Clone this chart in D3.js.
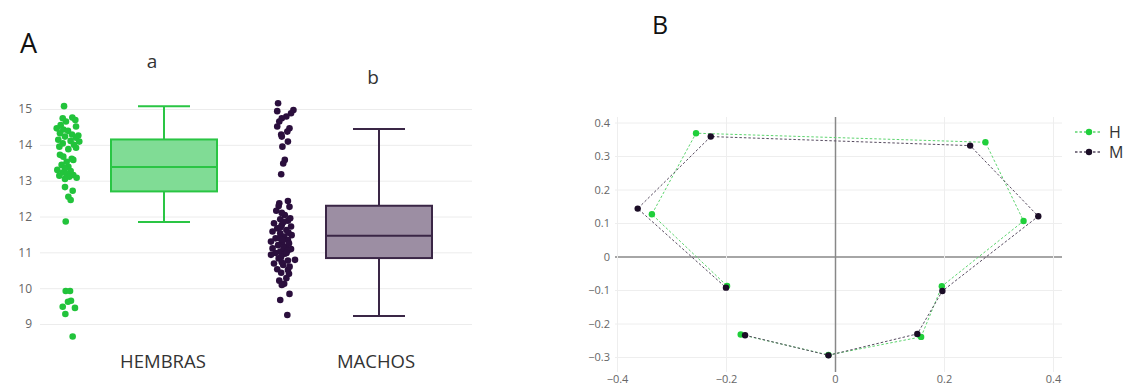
<!DOCTYPE html>
<html>
<head>
<meta charset="utf-8">
<script src="https://cdn.jsdelivr.net/npm/d3@7"></script>
<style>
  body { margin: 0; background: #fff; }
  text { font-family: "Open Sans", "Noto Sans", sans-serif; }
</style>
</head>
<body>
<div id="container"></div>
<script>
// panel A data
const groups = ["HEMBRAS", "MACHOS"];
const groupLetters = ["a", "b"];
// box stats: min, q1, median, q3, max
const boxHembras = [11.85, 12.7, 13.38, 14.15, 15.08];
const boxMachos = [9.22, 10.84, 11.46, 12.3, 14.44];

const hembrasVals = [15.08, 14.74, 14.76, 14.69, 14.65, 14.55, 14.51, 14.46, 14.43, 14.39,
  14.32, 14.29, 14.26, 14.23, 14.20, 14.14, 14.11, 14.09, 14.04, 14.00,
  13.95, 13.92, 13.88, 13.72, 13.67, 13.61, 13.58, 13.53, 13.44, 13.39,
  13.35, 13.30, 13.27, 13.23, 13.19, 13.16, 13.14, 13.11, 13.08, 13.05,
  12.82, 12.72, 12.55, 12.46, 11.86,
  9.92, 9.92, 9.65, 9.62, 9.48, 9.45, 9.28, 8.65];
const hembrasJit = [-0.33, -0.44, 0.36, 0.61, -0.17, -0.61, 0.67, -0.94, -0.39, 0,
  -0.67, 0.33, 0.86, -0.25, 0.67, -0.81, 0.22, 0.94, -0.44, 0.5,
  -0.72, 0.67, 0.03, -0.67, -0.39, 0.31, 0.44, -0.11, -0.53, 0.03,
  -0.25, -0.89, 0.22, -0.44, -0.11, 0.44, -0.72, 0.11, 0.72, -0.25,
  -0.25, 0.39, 0.03, 0.22, -0.19,
  -0.19, 0.17, 0.25, 0, -0.44, 0.58, -0.22, 0.39];

const machosVals = [15.16, 14.94, 14.97, 14.88, 14.79, 14.74, 14.65, 14.51, 14.46, 14.37,
  14.29, 14.23, 14.09, 13.95, 13.58, 13.48, 13.18,
  12.43, 12.37, 12.29, 12.27, 12.16, 12.04, 11.92, 11.88, 11.81, 11.76,
  11.72, 11.67, 11.62, 11.58, 11.53, 11.48, 11.44, 11.39, 11.34, 11.30,
  11.27, 11.20, 11.16, 11.11, 11.09, 11.02, 10.98, 10.96, 10.93, 10.79,
  10.83, 10.77, 10.69, 10.65, 10.53, 10.51, 10.43, 10.28, 10.21, 10.12,
  10.09, 9.84, 9.67, 9.25,
  11.85, 11.55, 11.40, 11.25, 11.12, 11.05, 10.88, 10.72, 10.60, 11.70,
  11.95, 12.10, 10.40, 10.98, 11.35];
const machosJit = [-0.41, -0.48, 0.87, 0.67, 0.28, -0.1, -0.31, -0.48, 0.54, 0.36,
  -0.15, -0.1, 0.41, -0.05, 0.15, 0.02, -0.15,
  0.41, -0.31, -0.36, 0.54, -0.56, 0.15, -0.23, 0.41, -0.75, -0.1,
  0.67, -0.48, 0.28, -0.87, -0.23, 0.72, 0.1, -0.62, 0.41, -1.0,
  -0.1, -0.41, 0.28, -0.87, 0.67, -0.23, -0.62, 0.15, -1.0, 1.0,
  -0.36, 0.41, -0.75, 0.02, -0.48, 0.41, -0.15, 0.28, -0.31, 0.1,
  -0.1, 0.54, -0.23, 0.36,
  0.05, 0.45, -0.3, 0.5, 0.05, 0.4, -0.15, -0.1, 0.55, -0.2,
  0.6, -0.1, 0.5, 0.3, -0.05];

const yTicksA = [9, 10, 11, 12, 13, 14, 15];

// panel B data
const hX = [-0.173, -0.012, 0.158, 0.196, 0.346, 0.276, -0.255, -0.336, -0.198];
const hY = [-0.233, -0.294, -0.240, -0.089, 0.106, 0.341, 0.368, 0.126, -0.088];
const mX = [-0.165, -0.012, 0.151, 0.197, 0.373, 0.248, -0.228, -0.362, -0.200];
const mY = [-0.235, -0.295, -0.231, -0.103, 0.120, 0.331, 0.358, 0.143, -0.093];
const xTicksB = [-0.4, -0.2, 0, 0.2, 0.4];
const yTicksB = [-0.3, -0.2, -0.1, 0, 0.1, 0.2, 0.3, 0.4];
const seriesNames = ["H", "M"];

const W = 1126, H = 390;
const svg = d3.select("#container").append("svg")
  .attr("width", W).attr("height", H);

// ---------- PANEL A ----------
const colA = {
  HEMBRAS: {pt: "#22c33b", fill: "#80dc95", stroke: "#2ac544"},
  MACHOS: {pt: "#2b0f3d", fill: "#9c8ea3", stroke: "#3a2646"}
};

const yA = d3.scaleLinear().domain([9, 15]).range([324, 109]);
const xA = d3.scalePoint().domain(groups).range([164, 379]);
const jitA = d3.scaleLinear().domain([-1, 1]).range([-12, 12]);
const ptOffset = -96, boxW = 106, capW = 52;

svg.append("text").attr("x", 20).attr("y", 53)
  .attr("font-size", 27).attr("fill", "#111").text("A");

// gridlines + tick labels
const gA = svg.append("g").attr("transform", "translate(40,0)")
  .call(d3.axisLeft(yA).tickValues(yTicksA).tickSize(-432).tickPadding(8).tickFormat(d3.format("d")));
gA.select(".domain").remove();
gA.selectAll(".tick line").attr("stroke", "#ececec");
gA.selectAll(".tick text").attr("fill", "#666").attr("font-size", 12)
  .style("font-family", "'Open Sans', sans-serif");

const data = [
  {g: "HEMBRAS", vals: hembrasVals, jit: hembrasJit, box: boxHembras},
  {g: "MACHOS", vals: machosVals, jit: machosJit, box: boxMachos}
];

data.forEach((d, k) => {
  const cx = xA(d.g);
  const c = colA[d.g];
  // jittered points
  svg.append("g").selectAll("circle")
    .data(d.vals)
    .join("circle")
    .attr("cx", (v, i) => cx + ptOffset + jitA(d.jit[i]))
    .attr("cy", v => yA(v))
    .attr("r", 3.3)
    .attr("fill", c.pt);

  const [mn, q1, md, q3, mx] = d.box;
  const b = svg.append("g").attr("stroke", c.stroke).attr("stroke-width", 2);
  b.append("line").attr("x1", cx).attr("x2", cx).attr("y1", yA(mx)).attr("y2", yA(q3));
  b.append("line").attr("x1", cx).attr("x2", cx).attr("y1", yA(q1)).attr("y2", yA(mn));
  b.append("line").attr("x1", cx - capW / 2).attr("x2", cx + capW / 2).attr("y1", yA(mx)).attr("y2", yA(mx));
  b.append("line").attr("x1", cx - capW / 2).attr("x2", cx + capW / 2).attr("y1", yA(mn)).attr("y2", yA(mn));
  b.append("rect").attr("x", cx - boxW / 2).attr("width", boxW)
    .attr("y", yA(q3)).attr("height", yA(q1) - yA(q3))
    .attr("fill", c.fill);
  b.append("line").attr("x1", cx - boxW / 2).attr("x2", cx + boxW / 2).attr("y1", yA(md)).attr("y2", yA(md));

  // letter above
  svg.append("text")
    .attr("x", cx - (k === 0 ? 12 : 6))
    .attr("y", k === 0 ? 68 : 84)
    .attr("text-anchor", "middle").attr("font-size", 19).attr("fill", "#333")
    .text(groupLetters[k]);

  // category label
  svg.append("text")
    .attr("x", cx - (k === 0 ? 1 : 3)).attr("y", 368)
    .attr("text-anchor", "middle").attr("font-size", 18.5).attr("fill", "#333")
    .text(d.g);
});

// ---------- PANEL B ----------
const xB = d3.scaleLinear().domain([-0.4, 0.4]).range([617, 1053]);
const yB = d3.scaleLinear().domain([-0.3, 0.4]).range([357, 122.5]);
const plotL = 615, plotR = 1062, plotT = 117, plotB = 372;

svg.append("text").attr("x", 652).attr("y", 34)
  .attr("font-size", 25).attr("fill", "#111").text("B");

const gy = svg.append("g").attr("transform", `translate(${plotL},0)`)
  .call(d3.axisLeft(yB).tickValues(yTicksB).tickSize(-(plotR - plotL)).tickPadding(5)
    .tickFormat(d => d === 0 ? "0" : d3.format(".1f")(d)));
gy.select(".domain").remove();
gy.selectAll(".tick line").attr("stroke", d => d === 0 ? "#888" : "#eeeeee")
  .attr("stroke-width", d => d === 0 ? 1.5 : 1);
gy.selectAll(".tick text").attr("fill", "#666").attr("font-size", 11)
  .style("font-family", "'Open Sans', sans-serif");

const gx = svg.append("g").attr("transform", `translate(0,${plotB})`)
  .call(d3.axisBottom(xB).tickValues(xTicksB).tickSize(-(plotB - plotT)).tickPadding(3)
    .tickFormat(d => d === 0 ? "0" : d3.format(".1f")(d)));
gx.select(".domain").remove();
gx.selectAll(".tick line").attr("stroke", d => d === 0 ? "#888" : "#eeeeee")
  .attr("stroke-width", d => d === 0 ? 1.5 : 1);
gx.selectAll(".tick text").attr("fill", "#666").attr("font-size", 11)
  .style("font-family", "'Open Sans', sans-serif");
// bring zero lines to front
gy.selectAll(".tick").filter(d => d === 0).raise();
gx.raise();

const colB = {
  H: {line: "#5cd46e", pt: "#1fcf3a"},
  M: {line: "#574c60", pt: "#1b0d26"}
};
const series = [
  {name: "H", xs: hX, ys: hY},
  {name: "M", xs: mX, ys: mY}
];
const line = d3.line().x(d => xB(d[0])).y(d => yB(d[1]));

series.forEach(s => {
  const pts = s.xs.map((x, i) => [x, s.ys[i]]);
  svg.append("path").datum(pts)
    .attr("d", line)
    .attr("fill", "none")
    .attr("stroke", colB[s.name].line)
    .attr("stroke-width", 1)
    .attr("stroke-dasharray", "2.5,2");
  svg.append("g").selectAll("circle").data(pts).join("circle")
    .attr("cx", d => xB(d[0])).attr("cy", d => yB(d[1]))
    .attr("r", 3.2).attr("fill", colB[s.name].pt);
});

// legend
const lg = svg.append("g").attr("transform", "translate(1075,132)");
seriesNames.forEach((n, i) => {
  const g = lg.append("g").attr("transform", `translate(0,${i * 20})`);
  g.append("line").attr("x1", 0).attr("x2", 26).attr("y1", 0).attr("y2", 0)
    .attr("stroke", colB[n].line).attr("stroke-width", 1.3).attr("stroke-dasharray", "2.5,2");
  g.append("circle").attr("cx", 14).attr("cy", 0).attr("r", 3.2).attr("fill", colB[n].pt);
  g.append("text").attr("x", 34).attr("y", 6).attr("font-size", 16).attr("fill", "#333").text(n);
});
</script>
</body>
</html>
